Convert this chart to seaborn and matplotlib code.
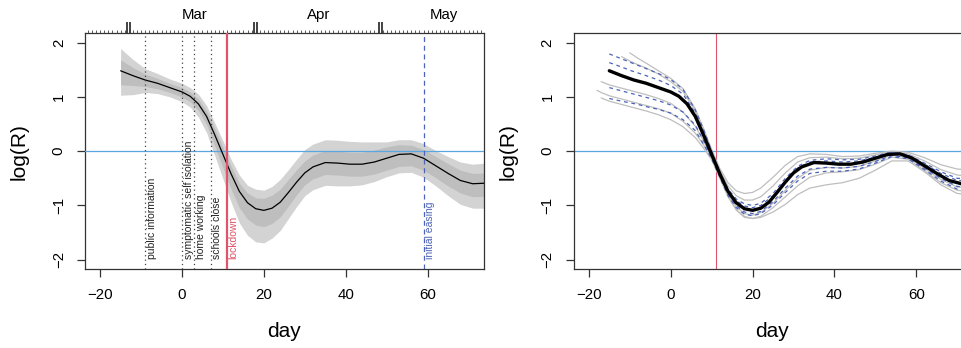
import numpy as np
import pandas as pd
import matplotlib
matplotlib.use("Agg")
import matplotlib.pyplot as plt
import seaborn as sns

# ---------------- data ----------------
day = [-15, -12, -9, -6, -3, 0, 2, 4, 6, 8, 10, 12, 14, 16, 18, 20, 22, 24, 26, 28,
       30, 32, 35, 38, 41, 44, 47, 50, 53, 56, 59, 62, 65, 68, 71, 74]
logR = [1.48, 1.39, 1.31, 1.25, 1.17, 1.09, 1.01, 0.87, 0.64, 0.30, -0.06, -0.42, -0.74,
        -0.95, -1.06, -1.09, -1.05, -0.94, -0.76, -0.57, -0.40, -0.29, -0.21, -0.22,
        -0.24, -0.24, -0.20, -0.13, -0.06, -0.05, -0.13, -0.27, -0.41, -0.54, -0.60, -0.59]
inner_hi = [1.68, 1.54, 1.42, 1.34, 1.25, 1.17, 1.09, 0.96, 0.74, 0.42, 0.07, -0.28, -0.59,
            -0.77, -0.86, -0.87, -0.81, -0.70, -0.52, -0.34, -0.18, -0.07, 0.01, 0.00,
            -0.02, -0.02, 0.02, 0.08, 0.12, 0.11, 0.03, -0.10, -0.23, -0.35, -0.41, -0.40]
inner_lo = [1.22, 1.21, 1.19, 1.15, 1.08, 1.00, 0.91, 0.75, 0.49, 0.10, -0.31, -0.70, -1.04,
            -1.25, -1.36, -1.39, -1.33, -1.21, -1.01, -0.80, -0.62, -0.51, -0.43, -0.44,
            -0.46, -0.46, -0.42, -0.35, -0.28, -0.27, -0.35, -0.49, -0.64, -0.77, -0.84, -0.83]
outer_hi = [1.89, 1.69, 1.52, 1.43, 1.33, 1.25, 1.17, 1.05, 0.84, 0.52, 0.19, -0.15, -0.44,
            -0.63, -0.70, -0.72, -0.65, -0.52, -0.34, -0.15, 0.03, 0.13, 0.21, 0.20,
            0.18, 0.17, 0.17, 0.17, 0.21, 0.21, 0.14, 0.01, -0.10, -0.20, -0.24, -0.22]
outer_lo = [1.03, 1.04, 1.08, 1.06, 1.00, 0.91, 0.81, 0.63, 0.34, -0.08, -0.51, -0.94, -1.32,
            -1.55, -1.67, -1.69, -1.60, -1.46, -1.24, -1.02, -0.82, -0.71, -0.63, -0.64,
            -0.64, -0.62, -0.56, -0.47, -0.40, -0.39, -0.48, -0.64, -0.82, -0.98, -1.05, -1.05]

events = ["public information", "symptomatic self isolation", "home working",
          "schools close", "lockdown", "initial easing"]
event_day = [-9, 0, 3, 7, 11, 59]

months = ["Mar", "Apr", "May"]
month_mid = [3, 33.5, 64]
month_break = [-13, 18, 48.5]

# right panel: alternative fits
fday = [-18, -17, -15, -12, -10, -8, -6, -3, 0, 3, 6, 8, 10, 12, 14, 16, 18, 20, 22, 25,
        28, 31, 34, 38, 42, 46, 50, 54, 58, 62, 66, 70, 74]
nan = np.nan
grey_fits = [
    [nan, nan, nan, nan, 1.81, 1.71, 1.62, 1.48, 1.34, 1.15, 0.78, 0.42, 0.03, -0.32, -0.58,
     -0.73, -0.78, -0.76, -0.68, -0.48, -0.26, -0.10, -0.05, -0.06, -0.10, -0.09, -0.04,
     0.00, -0.02, -0.12, -0.25, -0.33, -0.35],
    [nan, nan, nan, 1.74, 1.66, 1.59, 1.53, 1.42, 1.28, 1.10, 0.74, 0.39, 0.01, -0.36, -0.64,
     -0.82, -0.90, -0.90, -0.84, -0.64, -0.40, -0.20, -0.12, -0.11, -0.14, -0.13, -0.07,
     -0.01, -0.05, -0.18, -0.34, -0.44, -0.46],
    [nan, 1.28, 1.22, 1.16, 1.12, 1.08, 1.04, 0.97, 0.88, 0.72, 0.46, 0.19, -0.10, -0.44,
     -0.78, -1.02, -1.15, -1.18, -1.13, -0.96, -0.72, -0.50, -0.35, -0.30, -0.31, -0.28,
     -0.18, -0.07, -0.12, -0.32, -0.52, -0.66, -0.68],
    [1.12, 1.08, 1.02, 0.96, 0.92, 0.88, 0.84, 0.78, 0.70, 0.55, 0.33, 0.12, -0.13, -0.47,
     -0.82, -1.08, -1.22, -1.24, -1.20, -1.04, -0.84, -0.64, -0.48, -0.40, -0.38, -0.34,
     -0.24, -0.11, -0.15, -0.36, -0.58, -0.72, -0.76],
    [nan, 0.98, 0.92, 0.86, 0.82, 0.78, 0.74, 0.67, 0.58, 0.45, 0.25, 0.06, -0.16, -0.50,
     -0.84, -1.08, -1.20, -1.24, -1.22, -1.12, -0.98, -0.80, -0.68, -0.62, -0.58, -0.50,
     -0.35, -0.18, -0.18, -0.38, -0.62, -0.78, -0.80],
]
dashed_fits = [
    [nan, nan, 1.79, 1.70, 1.64, 1.58, 1.52, 1.43, 1.32, 1.14, 0.76, 0.40, 0.00, -0.38, -0.70,
     -0.88, -0.97, -1.00, -0.96, -0.78, -0.50, -0.28, -0.17, -0.14, -0.16, -0.15, -0.09,
     -0.02, -0.07, -0.22, -0.38, -0.50, -0.51],
    [nan, nan, 1.63, 1.55, 1.49, 1.44, 1.39, 1.31, 1.21, 1.05, 0.70, 0.35, -0.03, -0.40, -0.72,
     -0.91, -1.01, -1.04, -1.00, -0.82, -0.54, -0.31, -0.20, -0.18, -0.20, -0.18, -0.11,
     -0.03, -0.08, -0.24, -0.41, -0.54, -0.55],
    [nan, nan, 1.17, 1.11, 1.07, 1.03, 0.99, 0.93, 0.85, 0.72, 0.48, 0.20, -0.10, -0.45, -0.78,
     -1.00, -1.12, -1.15, -1.11, -0.93, -0.68, -0.46, -0.33, -0.30, -0.31, -0.28, -0.19,
     -0.08, -0.12, -0.31, -0.50, -0.65, -0.66],
    [nan, nan, 0.97, 0.92, 0.89, 0.86, 0.82, 0.77, 0.70, 0.58, 0.38, 0.13, -0.14, -0.48, -0.82,
     -1.04, -1.16, -1.19, -1.15, -0.99, -0.76, -0.55, -0.41, -0.37, -0.37, -0.33, -0.22,
     -0.10, -0.14, -0.34, -0.55, -0.70, -0.72],
]

# ---------------- style ----------------
sns.set_theme(style="ticks")
plt.rcParams["font.family"] = ["Liberation Sans", "DejaVu Sans"]
plt.rcParams["axes.unicode_minus"] = True
plt.rcParams["text.color"] = "black"
plt.rcParams["axes.labelcolor"] = "black"
plt.rcParams["xtick.color"] = "black"
plt.rcParams["ytick.color"] = "black"

W, H = 961, 348
fig = plt.figure(figsize=(W / 100, H / 100), dpi=100)
L1, R1 = 85, 483.7
L2, R2 = 573.7, 972.4
T, B = 33.3, 269
ax1 = fig.add_axes([L1 / W, 1 - B / H, (R1 - L1) / W, (B - T) / H])
ax2 = fig.add_axes([L2 / W, 1 - B / H, (R2 - L2) / W, (B - T) / H])

XL = (-23.7, 73.7)
YL = (-2.17, 2.17)
RED = "#DF536B"
BLUE0 = "#5AA6E0"
EASE = "#4B63B8"

for ax in (ax1, ax2):
    ax.set_xlim(*XL)
    ax.set_ylim(*YL)
    ax.set_xticks([-20, 0, 20, 40, 60])
    ax.set_yticks([-2, -1, 0, 1, 2])
    ax.tick_params(axis="both", direction="out", length=5.8, width=0.9, color="#333333",
                   labelsize=10.8, labelcolor="black")
    ax.tick_params(axis="x", pad=8.0)
    ax.tick_params(axis="y", pad=8.0)
    for lab in ax.get_yticklabels():
        lab.set_rotation(90)
        lab.set_va("center")
    for s in ax.spines.values():
        s.set_color("#333333")
        s.set_linewidth(0.9)
    ax.set_facecolor("white")

# ---------------- left panel ----------------
ax1.fill_between(day, outer_lo, outer_hi, color="#D3D3D3", lw=0, zorder=1)
ax1.fill_between(day, inner_lo, inner_hi, color="#BEBEBE", lw=0, zorder=2)
df_mean = pd.DataFrame({"day": day, "logR": logR})
sns.lineplot(data=df_mean, x="day", y="logR", ax=ax1, color="black", lw=0.9, zorder=4)
ax1.axhline(0, color=BLUE0, lw=0.9, zorder=3)

for name, d in zip(events, event_day):
    if name == "lockdown":
        ax1.axvline(d, color=RED, lw=1.6, zorder=5)
        col = RED
    elif name == "initial easing":
        ax1.axvline(d, color=EASE, lw=0.9, ls=(0, (4, 3)), zorder=5)
        col = EASE
    else:
        ax1.axvline(d, color="#444444", lw=0.9, ls=(0, (1, 2.5)), zorder=5)
        col = "#222222"
    ax1.annotate(name, xy=(d, -1.98), xytext=(1.2, 0), textcoords="offset points",
                 rotation=90, ha="left", va="bottom", fontsize=7.5, color=col, zorder=6)

# top month axis
sec = ax1.secondary_xaxis("top")
dbl = []
for b in month_break:
    dbl += [b - 0.4, b + 0.4]
sec.set_xticks(dbl)
sec.set_xticks(np.arange(-23, 74, 1), minor=True)
sec.tick_params(axis="x", which="major", direction="out", length=8, width=1.2,
                color="#222222", labeltop=False)
sec.tick_params(axis="x", which="minor", direction="out", length=2.5, width=0.6,
                color="#444444")
sec.set_xticklabels([])
sec.spines["top"].set_visible(False)
for m, xm in zip(months, month_mid):
    ax1.text(xm, 1.078, m, transform=ax1.get_xaxis_transform(), ha="center",
             va="center", fontsize=10.8)

# ---------------- right panel ----------------
ax2.axhline(0, color=BLUE0, lw=0.9, zorder=1)
ax2.axvline(11, color=RED, lw=0.8, zorder=1)
for g in grey_fits:
    dfg = pd.DataFrame({"day": fday, "logR": g}).dropna()
    sns.lineplot(data=dfg, x="day", y="logR", ax=ax2, color="#BEBEBE", lw=0.9, zorder=2)
for g in dashed_fits:
    dfd = pd.DataFrame({"day": fday, "logR": g}).dropna()
    sns.lineplot(data=dfd, x="day", y="logR", ax=ax2, color=EASE, lw=0.9,
                 ls=(0, (3, 3)), zorder=3)
sns.lineplot(data=df_mean, x="day", y="logR", ax=ax2, color="black", lw=2.4, zorder=4)

for ax in (ax1, ax2):
    ax.set_xlabel("")
    ax.set_ylabel("")

# axis titles placed at their pixel centres
for cx_x, cy_x, cx_y in ((283.5, 331.5, 19.5), (772.5, 331.5, 508.5)):
    fig.text(cx_x / W, 1 - cy_x / H, "day", ha="center", va="center", fontsize=15)
    fig.text(cx_y / W, 1 - 151.2 / H, "log(R)", ha="center", va="center", fontsize=15,
             rotation=90)

fig.savefig("out.png", dpi=100)
